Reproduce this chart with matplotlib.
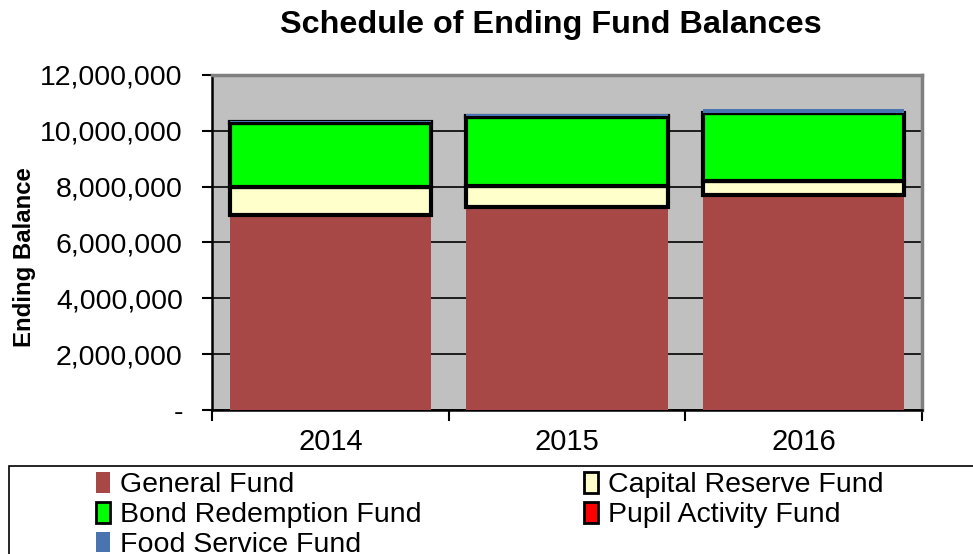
import matplotlib
matplotlib.use("Agg")
import matplotlib.pyplot as plt
from matplotlib.patches import Rectangle, Patch
from matplotlib.ticker import FuncFormatter, FixedLocator
import numpy as np

plt.rcParams["font.family"] = ["Liberation Sans", "DejaVu Sans"]

# ── Data ──────────────────────────────────────────────────────────────────────
years = ["2014", "2015", "2016"]
general_fund = [6_980_000, 7_260_000, 7_700_000]
capital_reserve = [1_020_000, 760_000, 500_000]
bond_redemption = [2_280_000, 2_480_000, 2_430_000]
pupil_activity = [20_000, 20_000, 20_000]
food_service = [60_000, 80_000, 130_000]

series = [
    ("General Fund", general_fund, "#A84846", "none"),
    ("Capital Reserve Fund", capital_reserve, "#FFFFCC", "black"),
    ("Bond Redemption Fund", bond_redemption, "#00FF00", "black"),
    ("Pupil Activity Fund", pupil_activity, "#FF0000", "black"),
    ("Food Service Fund", food_service, "#4A74B0", "none"),
]

fig = plt.figure(figsize=(9.73, 5.54), dpi=100)
ax = fig.add_axes([212 / 973, 1 - 410 / 554, 710 / 973, 335 / 554])
ax.set_facecolor("#C0C0C0")

x = np.arange(len(years))
bottom = np.zeros(len(years))
for name, vals, colour, edge in series:
    vals = np.array(vals, dtype=float)
    lw = 3 if edge != "none" else 0
    ax.bar(x, vals, bottom=bottom, width=0.85, color=colour,
           edgecolor=edge, linewidth=lw, zorder=3)
    bottom += vals

ax.set_xlim(-0.5, 2.5)
ax.set_ylim(0, 12_000_000)
ax.set_yticks(np.arange(0, 12_000_001, 2_000_000))
ax.yaxis.set_major_formatter(FuncFormatter(lambda v, p: "-" if v == 0 else f"{v:,.0f}"))
ax.yaxis.grid(True, color="black", linewidth=1.2, zorder=1)
ax.set_axisbelow(True)

ax.set_xticks(x)
ax.set_xticklabels(years)
ax.xaxis.set_minor_locator(FixedLocator([-0.5, 0.5, 1.5, 2.5]))
ax.tick_params(axis="x", which="major", length=0, labelsize=21, pad=13)
ax.tick_params(axis="x", which="minor", length=8, width=1.5, direction="out")
ax.tick_params(axis="y", length=7, width=1.5, labelsize=20.5, pad=14)

for s in ["top", "right"]:
    ax.spines[s].set_color("#808080")
    ax.spines[s].set_linewidth(2.5)
for s in ["left", "bottom"]:
    ax.spines[s].set_color("black")
    ax.spines[s].set_linewidth(1.8)

ax.set_ylabel("Ending Balance", fontsize=17.3, fontweight="bold", va="center")
ax.yaxis.set_label_coords(-(212 - 25) / 710, (410 - 257) / 335)
fig.text(551 / 973, 1 - 25 / 554, "Schedule of Ending Fund Balances",
         ha="center", va="center", fontsize=23.3, fontweight="bold")

# ── Legend (box runs off the bottom/right edge as in the reference) ──────────
fig.patches.append(Rectangle((9 / 973, -0.05), 1.0, (554 - 466) / 554 + 0.05,
                             transform=fig.transFigure, facecolor="white",
                             edgecolor="black", linewidth=1.2))
handles = {}
for name, vals, colour, edge in series:
    handles[name] = Patch(facecolor=colour, edgecolor=edge,
                          linewidth=2 if edge != "none" else 0)
order = ["General Fund", "Bond Redemption Fund", "Food Service Fund",
         "Capital Reserve Fund", "Pupil Activity Fund"]
fig.legend([handles[n] for n in order], order, ncol=2, frameon=False,
           loc="upper left", bbox_to_anchor=(96 / 973, 1 - 472 / 554),
           fontsize=20.5, handlelength=0.5, handleheight=0.75, handletextpad=0.35,
           columnspacing=5.7, labelspacing=0.12, borderpad=0, borderaxespad=0)

fig.savefig("out.png", dpi=100)
